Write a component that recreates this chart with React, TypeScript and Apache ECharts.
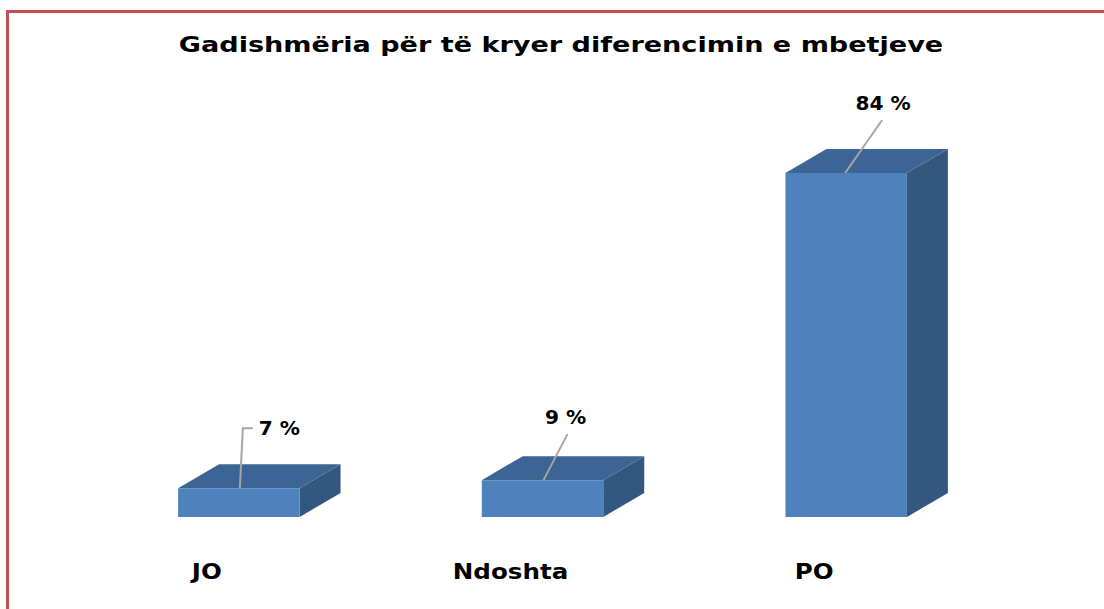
import React, { useEffect, useRef } from "react";
import * as echarts from "echarts";

const TITLE = "Gadishmëria për të kryer diferencimin e mbetjeve";
const categories = ["JO", "Ndoshta", "PO"];
const values = [7, 9, 84];
const unit = " %";

// leader line layout per bar (relative to the front-top centre of the bar)
const LEADERS = [
  { pts: [[1, 0], [4, -60], [14, -60]], label: [20, -60], align: "left" },
  { pts: [[1, 0], [25, -46]], label: [23, -62], align: "center" },
  { pts: [[-1, 0], [36, -53]], label: [37, -69], align: "center" },
];

const DEPTH_X = 41;
const DEPTH_Y = -24;
const FONT = "DejaVu Sans";

export default function App() {
  const ref = useRef<HTMLDivElement>(null);
  useEffect(() => {
    document.body.style.margin = "0";
    const chart = echarts.init(ref.current!, null, { renderer: "svg" });
    const data = categories.map((c, i) => [i, values[i]]);
    chart.setOption({
      animation: false,
      backgroundColor: "#ffffff",
      grid: { left: 87, right: 106, top: 107.5, bottom: 92 },
      xAxis: {
        type: "category",
        data: categories,
        axisLine: { show: false },
        axisTick: { show: false },
        axisLabel: { show: false },
      },
      yAxis: { type: "value", min: 0, max: 100, show: false },
      graphic: [
        { type: "line", shape: { x1: 7.5, y1: 10, x2: 7.5, y2: 609 }, style: { stroke: "#C0504D", lineWidth: 3 } },
        { type: "line", shape: { x1: 6, y1: 11.5, x2: 1104, y2: 11.5 }, style: { stroke: "#C0504D", lineWidth: 3 } },
        {
          type: "text",
          x: 561,
          y: 45,
          scaleX: 1.29,
          style: {
            text: TITLE,
            fontFamily: FONT,
            fontWeight: "bold",
            fontSize: 21,
            fill: "#000",
            align: "center",
            verticalAlign: "middle",
          },
        },
      ],
      series: [
        {
          type: "custom",
          data,
          renderItem: (params: any, api: any) => {
            const i = params.dataIndex;
            const v = api.value(1);
            const base = api.coord([api.value(0), 0]);
            const top = api.coord([api.value(0), v]);
            const bw = api.size([1, 0])[0] * 0.4;
            const cx = base[0];
            const x0 = cx - bw / 2;
            const x1 = cx + bw / 2;
            const yb = base[1];
            const yt = top[1];
            const L = LEADERS[i];
            return {
              type: "group",
              children: [
                {
                  type: "polygon",
                  shape: { points: [[x1, yt], [x1 + DEPTH_X, yt + DEPTH_Y], [x1 + DEPTH_X, yb + DEPTH_Y], [x1, yb]] },
                  style: { fill: "#34577F" },
                },
                {
                  type: "polygon",
                  shape: { points: [[x0, yt], [x0 + DEPTH_X, yt + DEPTH_Y], [x1 + DEPTH_X, yt + DEPTH_Y], [x1, yt]] },
                  style: { fill: "#3C6494" },
                },
                {
                  type: "rect",
                  shape: { x: x0, y: yt, width: bw, height: yb - yt },
                  style: { fill: "#4F81BD" },
                },
                {
                  type: "polyline",
                  shape: { points: L.pts.map((p) => [cx + p[0], yt + p[1]]) },
                  style: { stroke: "#A6A6A6", lineWidth: 2, fill: "none" },
                },
                {
                  type: "text",
                  x: cx + L.label[0],
                  y: yt + L.label[1],
                  scaleX: 1.06,
                  style: {
                    text: v + unit,
                    fontFamily: FONT,
                    fontWeight: "bold",
                    fontSize: 19,
                    fill: "#000",
                    align: L.align,
                    verticalAlign: "middle",
                  },
                },
                {
                  type: "text",
                  x: cx - 32,
                  y: yb + 55,
                  scaleX: 1.17,
                  style: {
                    text: categories[i],
                    fontFamily: FONT,
                    fontWeight: "bold",
                    fontSize: 21,
                    fill: "#000",
                    align: "center",
                    verticalAlign: "middle",
                  },
                },
              ],
            };
          },
        },
      ],
    });
    return () => chart.dispose();
  }, []);
  return <div ref={ref} style={{ width: 1104, height: 609 }} />;
}
